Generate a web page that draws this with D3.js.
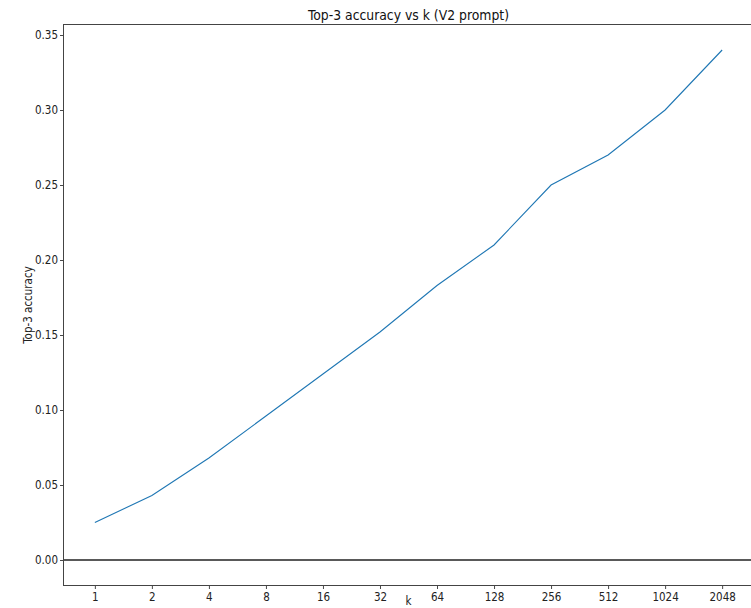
<!DOCTYPE html>
<html>
<head>
<meta charset="utf-8">
<script src="https://cdn.jsdelivr.net/npm/d3@7"></script>
<style>
  body { margin: 0; background: #fff; }
  svg { display: block; font-family: "DejaVu Sans Condensed", "DejaVu Sans", sans-serif; }
</style>
</head>
<body>
<svg id="chart" width="751" height="608"></svg>
<script>
// ---------------------------------------------------------- data
var kValues = ["1", "2", "4", "8", "16", "32", "64", "128", "256", "512", "1024", "2048"];
var top3Accuracy = [0.025, 0.043, 0.068, 0.096, 0.124, 0.152, 0.183, 0.21, 0.25, 0.27, 0.30, 0.34];
var yTicks = [0, 0.05, 0.10, 0.15, 0.20, 0.25, 0.30, 0.35];

// ---------------------------------------------------------- layout
// (window.top is read-only, so the frame edges get their own names)
var plotLeft = 63.5, plotRight = 753.5, plotTop = 24.5, plotBottom = 585.5;
var font = "DejaVu Sans Condensed, DejaVu Sans, sans-serif";
var svg = d3.select("#chart");

var x = d3.scaleLinear().domain([-0.55, kValues.length - 1 + 0.55]).range([plotLeft, plotRight]);
var y = d3.scaleLinear().domain([-0.017, 0.357]).range([plotBottom, plotTop]);

// ---------------------------------------------------------- line
var line = d3.line()
	.x(function(d, i) { return x(i); })
	.y(function(d) { return y(d); });

svg.append("path")
	.datum(top3Accuracy)
	.attr("d", line)
	.attr("fill", "none")
	.attr("stroke", "#1f77b4")
	.attr("stroke-width", 1.1);

// zero line
svg.append("line")
	.attr("x1", plotLeft).attr("x2", plotRight)
	.attr("y1", y(0)).attr("y2", y(0))
	.attr("stroke", "#222")
	.attr("stroke-width", 1.3);

// ---------------------------------------------------------- axes
var xAxis = d3.axisBottom(x)
	.tickValues(d3.range(kValues.length))
	.tickFormat(function(i) { return kValues[i]; })
	.tickSize(3.5).tickPadding(3.5);

var yAxis = d3.axisLeft(y)
	.tickValues(yTicks)
	.tickFormat(d3.format(".2f"))
	.tickSize(3.5).tickPadding(2);

var gx = svg.append("g").attr("transform", "translate(0," + plotBottom + ")").call(xAxis);
var gy = svg.append("g").attr("transform", "translate(" + plotLeft + ",0)").call(yAxis);

[gx, gy].forEach(function(g) {
	g.select(".domain").remove();
	g.selectAll(".tick line").attr("stroke", "#333").attr("stroke-width", 0.9);
	g.selectAll(".tick text").attr("font-size", 11.5).attr("fill", "#222")
		.attr("font-family", font);
});

// frame
svg.append("rect")
	.attr("x", plotLeft).attr("y", plotTop)
	.attr("width", plotRight - plotLeft).attr("height", plotBottom - plotTop)
	.attr("fill", "none")
	.attr("stroke", "#444")
	.attr("stroke-width", 1);

// ---------------------------------------------------------- labels
svg.append("text")
	.attr("x", (plotLeft + plotRight) / 2).attr("y", 20)
	.attr("text-anchor", "middle")
	.attr("font-size", 13.8).attr("fill", "#111")
	.text("Top-3 accuracy vs k (V2 prompt)");

svg.append("text")
	.attr("x", (plotLeft + plotRight) / 2).attr("y", 605)
	.attr("text-anchor", "middle")
	.attr("font-size", 11.5).attr("fill", "#222")
	.text("k");

svg.append("text")
	.attr("transform", "translate(32," + ((plotTop + plotBottom) / 2) + ") rotate(-90)")
	.attr("text-anchor", "middle")
	.attr("font-size", 11.5).attr("fill", "#222")
	.text("Top-3 accuracy");
</script>
</body>
</html>
